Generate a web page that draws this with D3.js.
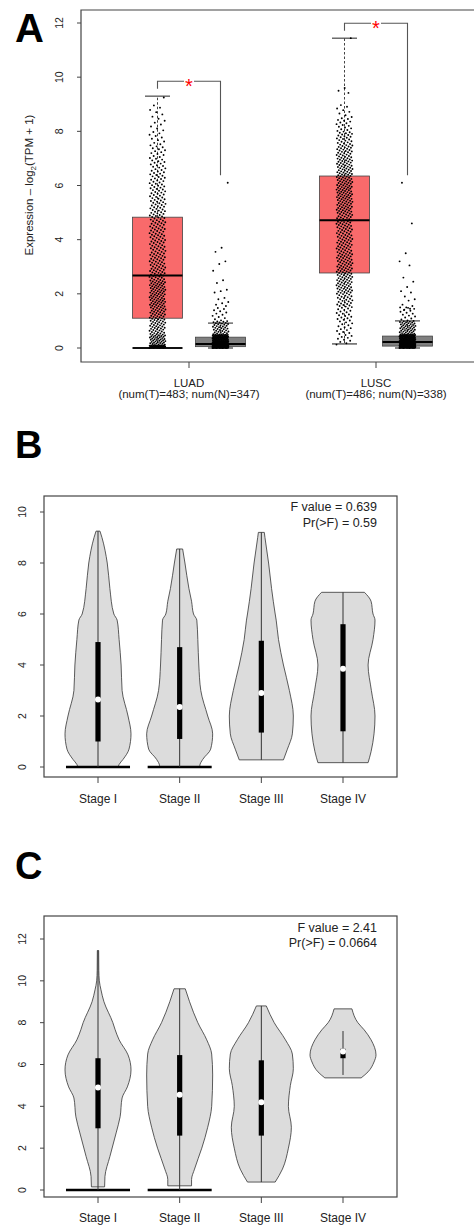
<!DOCTYPE html>
<html>
<head>
<meta charset="utf-8">
<script src="https://cdn.jsdelivr.net/npm/d3@7"></script>
<style>
body { margin: 0; background: #fff; }
svg text { font-family: "Liberation Sans", Arial, sans-serif; fill: #222; }
</style>
</head>
<body>
<div id="chart"></div>
<script>
// ---------- panel A data ----------
const cancers = ["LUAD", "LUSC"];
const cancerNotes = ["(num(T)=483; num(N)=347)", "(num(T)=486; num(N)=338)"];
// [lower whisker, Q1, median, Q3, upper whisker]
const tumorBox = [[0, 1.1, 2.68, 4.83, 9.3], [0.15, 2.77, 4.72, 6.35, 11.44]];
const normalBox = [[0, 0.05, 0.15, 0.4, 0.92], [0, 0.07, 0.22, 0.44, 1.0]];
const tumorWideLowCap = [true, false];
const tickA = [0, 2, 4, 6, 8, 10, 12];

// histogram of the jittered points (counts per bin), sparse top points listed apart
const binEdges = [0, 0.1, 0.25, 0.5, 1, 1.5, 2, 2.5, 3, 3.5, 4, 4.5, 5, 5.5, 6, 6.5, 7, 7.5, 8, 8.5, 9, 9.5];
const luadTumorCounts = [40, 15, 25, 35, 35, 38, 38, 30, 28, 26, 26, 26, 24, 22, 20, 17, 14, 10, 7, 6, 1];
const luadTumorHigh = [];
const luadNormalCounts = [130, 70, 80, 38, 12, 0, 0, 0, 0, 0, 0, 0, 0, 0, 0, 0, 0, 0, 0, 0, 0];
const luadNormalHigh = [6.1, 3.7, 3.55, 3.2, 3.1, 2.85, 2.5, 2.4, 2.15, 2.1, 2.05, 1.85, 1.8, 1.7, 1.65, 1.6, 1.55];
const luscTumorCounts = [0, 3, 7, 14, 18, 26, 34, 34, 32, 30, 30, 32, 36, 38, 36, 34, 30, 24, 16, 8, 0];
const luscTumorHigh = [11.44, 9.6, 9.5, 9.42];
const luscNormalCounts = [100, 75, 85, 45, 14, 0, 0, 0, 0, 0, 0, 0, 0, 0, 0, 0, 0, 0, 0, 0, 0];
const luscNormalHigh = [6.1, 4.6, 3.5, 3.2, 3.05, 2.6, 2.45, 2.25, 2.1, 2.05, 1.9, 1.8, 1.75, 1.6, 1.55, 1.5, 1.5, 1.45, 1.4];

// ---------- panels B / C data ----------
const stages = ["Stage I", "Stage II", "Stage III", "Stage IV"];
const fTextB = ["F value = 0.639", "Pr(>F) = 0.59"];
const fTextC = ["F value = 2.41", "Pr(>F) = 0.0664"];
const tickB = [0, 2, 4, 6, 8, 10];
const tickC = [0, 2, 4, 6, 8, 10, 12];

// violin outlines: expression levels and relative density at each level
const violinLevelsB = [
  [0, 0.1, 0.3, 0.7, 1.3, 2, 3, 4, 5, 5.76, 6, 7, 8, 9, 9.25],
  [0, 0.05, 0.3, 0.7, 1.3, 2, 3, 4, 5, 5.76, 6, 6.5, 7, 8, 8.55],
  [0.28, 0.7, 1.3, 2, 3, 4, 5, 5.76, 6, 7, 8, 9, 9.2],
  [0.17, 0.6, 1.3, 2, 3, 4, 5, 5.76, 6, 6.5, 6.85]
];
const violinDensB = [
  [0.61, 0.64, 0.76, 0.94, 1.0, 0.91, 0.73, 0.70, 0.64, 0.58, 0.48, 0.36, 0.28, 0.12, 0.06],
  [0.61, 0.61, 0.70, 0.94, 1.0, 0.85, 0.64, 0.58, 0.55, 0.52, 0.42, 0.36, 0.28, 0.16, 0.09],
  [0.67, 0.79, 0.94, 0.97, 0.85, 0.67, 0.52, 0.45, 0.42, 0.31, 0.22, 0.11, 0.09],
  [0.76, 0.85, 0.94, 0.97, 0.86, 0.76, 0.91, 0.97, 0.91, 0.85, 0.65]
];
const zeroBarB = [0.97, 0.97, 0, 0];
const minB = [0, 0, 0.28, 0.17];
const q1B = [1.0, 1.1, 1.35, 1.4];
const medB = [2.65, 2.35, 2.9, 3.85];
const q3B = [4.9, 4.7, 4.95, 5.6];
const maxB = [9.25, 8.55, 9.2, 6.85];

const violinLevelsC = [
  [0.15, 0.64, 1.6, 2.73, 3.5, 4.4, 4.93, 5.74, 6.46, 7.18, 7.66, 8, 9, 9.57, 10, 10.5, 11.45],
  [0.2, 0.5, 1, 2, 3, 4, 5.5, 6.5, 7.18, 8, 9, 9.62],
  [0.38, 1, 2, 3, 4, 5, 5.8, 6.5, 7.18, 8, 8.8],
  [5.36, 5.65, 6.12, 6.46, 7.18, 7.66, 8, 8.66]
];
const violinDensC = [
  [0.2, 0.21, 0.36, 0.55, 0.67, 0.73, 0.89, 1.0, 0.91, 0.64, 0.52, 0.45, 0.18, 0.09, 0.04, 0.025, 0.02],
  [0.36, 0.36, 0.45, 0.67, 0.85, 0.97, 1.0, 0.97, 0.82, 0.55, 0.3, 0.17],
  [0.42, 0.64, 0.82, 0.91, 0.82, 0.88, 0.97, 0.94, 0.73, 0.39, 0.15],
  [0.55, 0.76, 0.94, 1.0, 0.85, 0.64, 0.45, 0.27]
];
const zeroBarC = [0.97, 0.97, 0, 0];
const minC = [0, 0, 0.38, 5.5];
const q1C = [2.95, 2.6, 2.6, 6.3];
const medC = [4.9, 4.55, 4.2, 6.62];
const q3C = [6.3, 6.45, 6.2, 6.75];
const maxC = [11.45, 9.62, 8.8, 7.6];

var w = 474, h = 1226;
var axisColor = "#444";

var svg = d3.select("#chart").append("svg")
  .attr("width", w)
  .attr("height", h);

//Panel letters
[["A", 15, 42, 40], ["B", 15, 458, 38], ["C", 15, 879, 38]].forEach(p => {
  svg.append("text").attr("x", p[1]).attr("y", p[2])
    .style("font-size", p[3] + "px").style("font-weight", "bold").style("fill", "#000")
    .text(p[0]);
});

//Turns histogram counts into values
function groupValues(counts, extras) {
  var vals = [];
  counts.forEach((n, k) => {
    var a = binEdges[k], b = binEdges[k + 1];
    for (var j = 0; j < n; j++) vals.push(a + (j + 0.5) / n * (b - a));
  });
  return vals.concat(extras);
}

// ================= Panel A =================
(function panelA() {
  var g = svg.append("g");
  var left = 81, top = 10, bottom = 362;
  var yScale = d3.scaleLinear().domain([0, 12]).range([348, 23]);
  var xScale = d3.scalePoint().domain(cancers).range([189, 376]);
  var off = 31.5, half = 25, capHalf = 12.5, jit = 8;

  //frame
  g.append("path")
    .attr("d", `M${w + 5},${top}H${left}V${bottom}H${w + 5}`)
    .attr("fill", "none").attr("stroke", axisColor).attr("stroke-width", 1.2);

  //y axis ticks + labels
  tickA.forEach(t => {
    g.append("line").attr("x1", left - 4).attr("x2", left)
      .attr("y1", yScale(t)).attr("y2", yScale(t)).attr("stroke", axisColor);
    g.append("text")
      .attr("transform", `translate(63,${yScale(t)}) rotate(-90)`)
      .attr("text-anchor", "middle").style("font-size", "10.5px").text(t);
  });
  var ylab = g.append("text")
    .attr("transform", `translate(33,185) rotate(-90)`)
    .attr("text-anchor", "middle").style("font-size", "11.5px");
  ylab.append("tspan").text("Expression \u2013 log");
  ylab.append("tspan").attr("dy", 3).style("font-size", "8px").text("2");
  ylab.append("tspan").attr("dy", -3).text("(TPM + 1)");

  //x axis ticks + labels
  cancers.forEach((c, i) => {
    var x = xScale(c);
    g.append("line").attr("x1", x).attr("x2", x).attr("y1", bottom).attr("y2", bottom + 6)
      .attr("stroke", axisColor);
    g.append("text").attr("x", x).attr("y", 387).attr("text-anchor", "middle")
      .style("font-size", "11.5px").text(c);
    g.append("text").attr("x", x).attr("y", 398).attr("text-anchor", "middle")
      .style("font-size", "11.5px").text(cancerNotes[i]);
  });

  var groups = [
    { cx: xScale("LUAD") - off, box: tumorBox[0], fill: "#f96a6b", vals: groupValues(luadTumorCounts, luadTumorHigh), wide: tumorWideLowCap[0] },
    { cx: xScale("LUAD") + off, box: normalBox[0], fill: "#7f7f7f", vals: groupValues(luadNormalCounts, luadNormalHigh), wide: false },
    { cx: xScale("LUSC") - off, box: tumorBox[1], fill: "#f96a6b", vals: groupValues(luscTumorCounts, luscTumorHigh), wide: tumorWideLowCap[1] },
    { cx: xScale("LUSC") + off, box: normalBox[1], fill: "#7f7f7f", vals: groupValues(luscNormalCounts, luscNormalHigh), wide: false }
  ];

  groups.forEach(gr => {
    var b = gr.box;
    //whiskers
    g.append("line").attr("x1", gr.cx).attr("x2", gr.cx)
      .attr("y1", yScale(b[3])).attr("y2", yScale(b[4]))
      .attr("stroke", "#444").attr("stroke-dasharray", "2.5,2");
    g.append("line").attr("x1", gr.cx).attr("x2", gr.cx)
      .attr("y1", yScale(b[1])).attr("y2", yScale(b[0]))
      .attr("stroke", "#444").attr("stroke-dasharray", "2.5,2");
    g.append("line").attr("x1", gr.cx - capHalf).attr("x2", gr.cx + capHalf)
      .attr("y1", yScale(b[4])).attr("y2", yScale(b[4])).attr("stroke", "#222");
    var lc = gr.wide ? half : capHalf;
    g.append("line").attr("x1", gr.cx - lc).attr("x2", gr.cx + lc)
      .attr("y1", yScale(b[0])).attr("y2", yScale(b[0]))
      .attr("stroke", "#111").attr("stroke-width", gr.wide ? 2 : 1);
    //box
    g.append("rect").attr("x", gr.cx - half).attr("width", half * 2)
      .attr("y", yScale(b[3])).attr("height", yScale(b[1]) - yScale(b[3]))
      .attr("fill", gr.fill).attr("stroke", "#444").attr("stroke-width", 0.8);
    g.append("line").attr("x1", gr.cx - half).attr("x2", gr.cx + half)
      .attr("y1", yScale(b[2])).attr("y2", yScale(b[2]))
      .attr("stroke", "#000").attr("stroke-width", 2);
    //jittered points
    g.append("g").selectAll("circle").data(gr.vals).enter().append("circle")
      .attr("cx", (d, i) => gr.cx + (((i * 0.6180339887) % 1) - 0.5) * 2 * jit)
      .attr("cy", d => yScale(d))
      .attr("r", 0.95)
      .attr("fill", "#000");
  });

  //significance brackets
  cancers.forEach((c, i) => {
    var xl = xScale(c) - off, xr = xScale(c) + off, xm = xScale(c);
    var tMax = tumorBox[i][4];
    var nMax = d3.max(groups[i * 2 + 1].vals);
    var yTop = yScale(tMax + 0.55);
    g.append("path")
      .attr("d", `M${xl},${yScale(tMax + 0.27)}V${yTop}H${xm - 5}M${xm + 5},${yTop}H${xr}V${yScale(nMax + 0.28)}`)
      .attr("fill", "none").attr("stroke", "#555").attr("stroke-width", 1.1);
    g.append("text").attr("x", xm).attr("y", yTop + 11.5)
      .attr("text-anchor", "middle").style("font-size", "20px").style("fill", "#f00")
      .text("*");
  });
})();

// ================= Panels B and C =================
function violinPanel(opt) {
  var g = svg.append("g");
  var yScale = d3.scaleLinear().domain(opt.domain).range(opt.yRange);
  var xScale = d3.scalePoint().domain(stages).range([98, 343]);
  var wScale = d3.scaleLinear().domain([0, 1]).range([0, 33]);

  //frame
  g.append("rect").attr("x", opt.frame[0]).attr("y", opt.frame[1])
    .attr("width", opt.frame[2] - opt.frame[0]).attr("height", opt.frame[3] - opt.frame[1])
    .attr("fill", "none").attr("stroke", axisColor).attr("stroke-width", 1.2);

  opt.ticks.forEach(t => {
    g.append("line").attr("x1", opt.frame[0] - 4).attr("x2", opt.frame[0])
      .attr("y1", yScale(t)).attr("y2", yScale(t)).attr("stroke", axisColor);
    g.append("text")
      .attr("transform", `translate(26,${yScale(t)}) rotate(-90)`)
      .attr("text-anchor", "middle").style("font-size", "10.5px").text(t);
  });

  stages.forEach((s, i) => {
    var cx = xScale(s);
    g.append("line").attr("x1", cx).attr("x2", cx)
      .attr("y1", opt.frame[3]).attr("y2", opt.frame[3] + 6).attr("stroke", axisColor);
    g.append("text").attr("x", cx).attr("y", opt.labelY).attr("text-anchor", "middle")
      .style("font-size", "12px").text(s);

    var pts = opt.levels[i].map((v, k) => ({ v: v, d: opt.dens[i][k] }));
    var area = d3.area()
      .y(d => yScale(d.v))
      .x0(d => cx - wScale(d.d))
      .x1(d => cx + wScale(d.d))
      .curve(d3.curveMonotoneY);
    g.append("path").attr("d", area(pts))
      .attr("fill", "#dcdcdc").attr("stroke", "#333").attr("stroke-width", 0.8);

    if (opt.zeroBar[i] > 0) {
      g.append("line").attr("x1", cx - wScale(opt.zeroBar[i])).attr("x2", cx + wScale(opt.zeroBar[i]))
        .attr("y1", yScale(0)).attr("y2", yScale(0))
        .attr("stroke", "#000").attr("stroke-width", 2.6);
    }
    g.append("line").attr("x1", cx).attr("x2", cx)
      .attr("y1", yScale(opt.min[i])).attr("y2", yScale(opt.max[i]))
      .attr("stroke", "#333").attr("stroke-width", 1);
    g.append("rect").attr("x", cx - 2.6).attr("width", 5.2)
      .attr("y", yScale(opt.q3[i])).attr("height", yScale(opt.q1[i]) - yScale(opt.q3[i]))
      .attr("fill", "#000");
    g.append("circle").attr("cx", cx).attr("cy", yScale(opt.med[i])).attr("r", 3)
      .attr("fill", "#fff");
  });

  opt.fText.forEach((t, k) => {
    g.append("text").attr("x", 377).attr("y", opt.fY[k]).attr("text-anchor", "end")
      .style("font-size", "12.5px").text(t);
  });
}

violinPanel({
  domain: [0, 10], yRange: [767, 512], frame: [44, 496, 397, 777], ticks: tickB,
  labelY: 803, levels: violinLevelsB, dens: violinDensB, zeroBar: zeroBarB,
  min: minB, q1: q1B, med: medB, q3: q3B, max: maxB, fText: fTextB, fY: [511, 527]
});

violinPanel({
  domain: [0, 12], yRange: [1190, 939], frame: [44, 916, 397, 1197], ticks: tickC,
  labelY: 1222, levels: violinLevelsC, dens: violinDensC, zeroBar: zeroBarC,
  min: minC, q1: q1C, med: medC, q3: q3C, max: maxC, fText: fTextC, fY: [932, 947]
});
</script>
</body>
</html>
